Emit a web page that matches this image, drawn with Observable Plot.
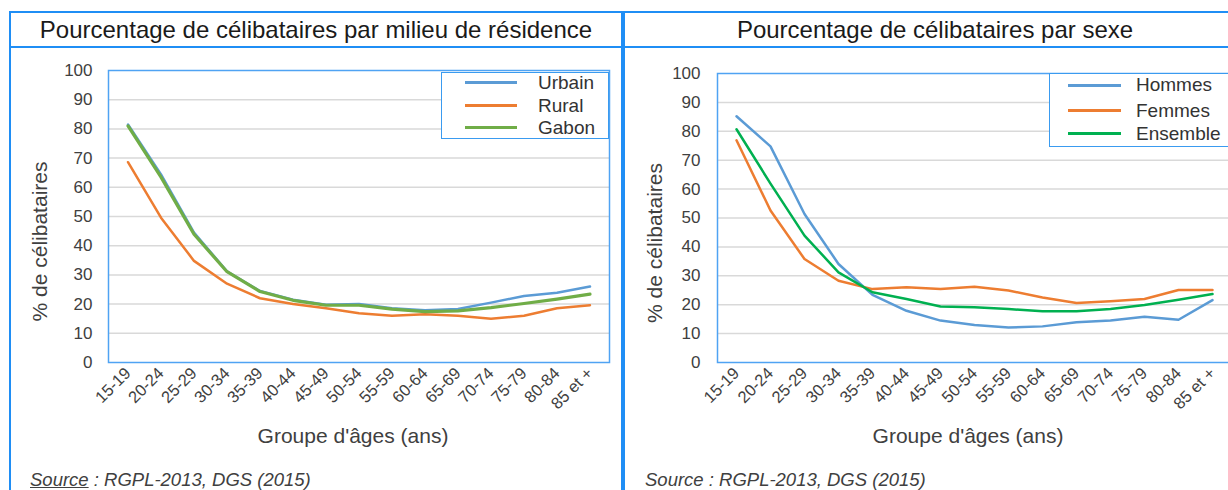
<!DOCTYPE html>
<html>
<head>
<meta charset="utf-8">
<script src="https://cdn.jsdelivr.net/npm/d3@7"></script>
<script src="https://cdn.jsdelivr.net/npm/@observablehq/plot@0.6"></script>
<style>
  html, body { margin: 0; padding: 0; background: #fff; }
  #root { position: relative; width: 1228px; height: 490px; overflow: hidden; background: #fff;
          font-family: "Liberation Sans", Arial, sans-serif; color: #404040; }
  .rule { position: absolute; background: #1f8ef5; }
  .title { position: absolute; top: 16px; font-size: 24px; line-height: 28px; color: #1a1a1a; text-align: center; white-space: nowrap; }
  .chart { position: absolute; top: 50px; width: 620px; height: 400px; }
  .chart svg { max-width: none !important; }
  .legend { position: absolute; border: 1.5px solid #3a9bf0; background: #fff; box-sizing: border-box; }
  .legend .sw { position: absolute; height: 3px; }
  .legend .lb { position: absolute; font-size: 19px; color: #333; line-height: 22px; white-space: nowrap; }
  .source { position: absolute; font-size: 18.5px; line-height: 22px; font-style: italic; color: #404040; white-space: nowrap; }
</style>
</head>
<body>
<div id="root">
  <div class="rule" style="left:9px;top:11px;width:1219px;height:2px"></div>
  <div class="rule" style="left:9px;top:46px;width:1219px;height:2px"></div>
  <div class="rule" style="left:9px;top:11px;width:2px;height:479px"></div>
  <div class="rule" style="left:621px;top:11px;width:4px;height:479px"></div>
  <div class="title" id="t1" style="left:11px;width:610px"></div>
  <div class="title" id="t2" style="left:625px;width:620px"></div>
  <div class="chart" id="c1" style="left:0px"></div>
  <div class="chart" id="c2" style="left:620px"></div>
  <div class="legend" id="l1" style="left:441px;top:72px;width:168px;height:67px"></div>
  <div class="legend" id="l2" style="left:1049px;top:73px;width:200px;height:74px"></div>
  <div class="source" id="s1" style="left:30px;top:469px"></div>
  <div class="source" id="s2" style="left:645px;top:469px"></div>
</div>
<script>
// ---- data ----
const ages = ["15-19","20-24","25-29","30-34","35-39","40-44","45-49","50-54","55-59","60-64","65-69","70-74","75-79","80-84","85 et +"];
const urbain   = [81.5, 64.4, 44.5, 31.2, 24.5, 21.5, 19.8, 20.0, 18.6, 17.9, 18.3, 20.5, 22.8, 23.9, 26.0];
const rural    = [68.6, 49.6, 34.8, 27.0, 22.0, 20.0, 18.6, 16.9, 16.0, 16.5, 16.0, 15.0, 16.0, 18.6, 19.6];
const gabon    = [81.0, 63.5, 43.9, 31.1, 24.3, 21.3, 19.6, 19.6, 18.3, 17.4, 17.7, 18.8, 20.2, 21.7, 23.4];
const hommes   = [85.2, 74.8, 51.4, 34.1, 23.4, 17.9, 14.5, 13.0, 12.1, 12.5, 13.9, 14.5, 15.8, 14.8, 21.6];
const femmes   = [76.9, 52.6, 35.8, 28.3, 25.4, 26.0, 25.4, 26.2, 24.9, 22.5, 20.6, 21.2, 22.0, 25.1, 25.1];
const ensemble = [80.7, 61.9, 43.9, 31.2, 24.3, 22.0, 19.4, 19.1, 18.5, 17.7, 17.7, 18.5, 19.9, 21.7, 23.7];
const seriesLeft  = ["Urbain", "Rural", "Gabon"];
const seriesRight = ["Hommes", "Femmes", "Ensemble"];
const colorsLeft  = ["#5B9BD5", "#ED7D31", "#70AD47"];
const colorsRight = ["#5B9BD5", "#ED7D31", "#00B050"];
const yTicks = [0, 10, 20, 30, 40, 50, 60, 70, 80, 90, 100];
const gridTicks = [10, 20, 30, 40, 50, 60, 70, 80, 90];
const titleLeft  = "Pourcentage de célibataires par milieu de résidence";
const titleRight = "Pourcentage de célibataires par sexe";
const yLabel = "% de célibataires";
const xLabel = "Groupe d'âges (ans)";

function table(names, arrays) {
  return names.flatMap((s, i) => arrays[i].map((v, j) => ({series: s, age: ages[j], value: v})));
}
const dataLeft  = table(seriesLeft,  [urbain, rural, gabon]);
const dataRight = table(seriesRight, [hommes, femmes, ensemble]);

function chart(data, names, colors, opt) {
  return Plot.plot({
    width: 620, height: 400,
    marginLeft: opt.ml, marginRight: opt.mr, marginTop: opt.mt, marginBottom: 88,
    x: {type: "band", domain: ages, padding: 0},
    y: {domain: [0, 100]},
    color: {domain: names, range: colors},
    style: {fontFamily: "'Liberation Sans', Arial, sans-serif", fontSize: "16px", color: "#404040", background: "transparent", overflow: "visible", maxWidth: "none"},
    marks: [
      Plot.gridY(gridTicks, {stroke: "#d9d9d9", strokeOpacity: 1, strokeWidth: 1.5}),
      Plot.axisY(yTicks, {tickSize: 0, tickPadding: opt.tp, label: null, fontSize: 17}),
      Plot.axisX({tickSize: 0, tickRotate: -45, tickPadding: 8, label: null, fontSize: 16.5}),
      Plot.lineY(data, {x: "age", y: "value", z: "series", stroke: "series", strokeWidth: d => d.series === opt.thick ? 3.2 : 2.5}),
      Plot.frame({stroke: "#4fa3f3", strokeWidth: 1.5}),
      Plot.text([yLabel], {text: d => d, frameAnchor: "left", textAnchor: "middle", dx: opt.ydx, dy: 25, rotate: -90, fontSize: 21, fill: "#404040"}),
      Plot.text([xLabel], {text: d => d, frameAnchor: "bottom", dx: -6, dy: 80, fontSize: 21, fill: "#404040"})
    ]
  });
}

document.getElementById("c1").append(chart(dataLeft, seriesLeft, colorsLeft, {ml: 108, mr: 11, mt: 20, tp: 16, ydx: -68, thick: "Gabon"}));
document.getElementById("c2").append(chart(dataRight, seriesRight, colorsRight, {ml: 97, mr: 10, mt: 23, tp: 17, ydx: -62, thick: null}));

function legend(el, names, colors, pos) {
  names.forEach((n, i) => {
    const sw = document.createElement("div");
    sw.className = "sw";
    sw.style.left = pos.x0 + "px";
    sw.style.width = pos.w + "px";
    sw.style.top = (pos.ys[i] - 1.5) + "px";
    sw.style.background = colors[i];
    el.append(sw);
    const lb = document.createElement("div");
    lb.className = "lb";
    lb.style.left = pos.tx + "px";
    lb.style.top = (pos.ys[i] - 11) + "px";
    lb.textContent = n;
    el.append(lb);
  });
}
legend(document.getElementById("l1"), seriesLeft, colorsLeft, {x0: 23, w: 52, tx: 96, ys: [9.5, 32.5, 54.5]});
legend(document.getElementById("l2"), seriesRight, colorsRight, {x0: 18, w: 53, tx: 86, ys: [11, 36.5, 59.5]});

document.getElementById("t1").textContent = titleLeft;
document.getElementById("t2").textContent = titleRight;
document.getElementById("s1").innerHTML = "<u>Source</u> : RGPL-2013, DGS (2015)";
document.getElementById("s2").textContent = "Source : RGPL-2013, DGS (2015)";
</script>
</body>
</html>
